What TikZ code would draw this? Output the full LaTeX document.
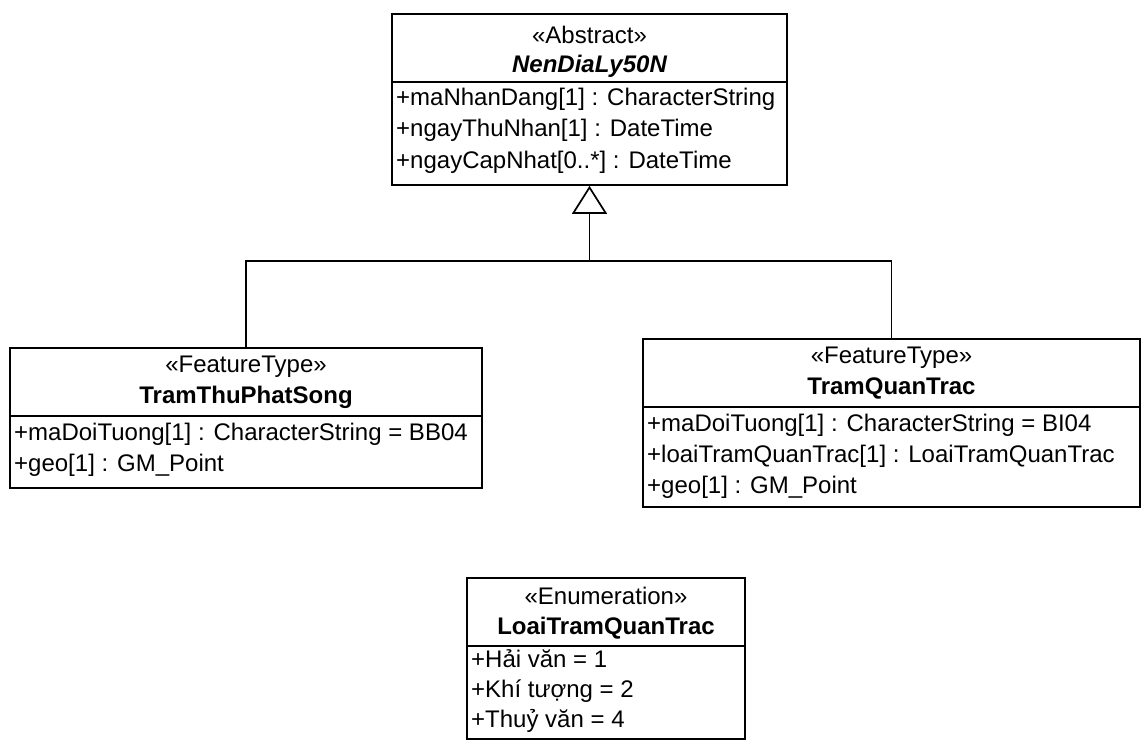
\documentclass[tikz,border=0pt]{standalone}
\usepackage{fontspec}
\setmainfont{Liberation Sans}
\usetikzlibrary{arrows.meta}
\begin{document}
\begin{tikzpicture}[x=1pt,y=-1pt,
  line/.style={line width=1.7pt},
  umlbox/.style={draw, line width=1.7pt, rectangle, inner sep=0pt},
  txt/.style={inner sep=0pt, font=\fontsize{24}{28}\selectfont, text height=17pt, text depth=5pt},
  attr/.style={txt, anchor=west},
  ster/.style={txt},
  cname/.style={txt, font=\fontsize{24}{28}\selectfont\bfseries},
]
\useasboundingbox (0,0) rectangle (1144,749);
% ---------- NenDiaLy50N
\node[umlbox, minimum width=395pt, minimum height=171pt] (top) at (589.5,99.5) {};
\draw[line] (392,82) -- (787,82);
\node[ster] (topS) at (589.5,38) {«Abstract»};
\node[cname, font=\fontsize{24}{28}\selectfont\bfseries\itshape] (topN) at (589.5,67) {NenDiaLy50N};
\node[attr] (topA1) at (396,100) {+maNhanDang[1] : CharacterString};
\node[attr] (topA2) at (396,131) {+ngayThuNhan[1] : DateTime};
\node[attr] (topA3) at (396,162) {+ngayCapNhat[0..*] : DateTime};
% ---------- TramThuPhatSong
\node[umlbox, minimum width=472pt, minimum height=140pt] (left) at (246,418) {};
\draw[line] (10,416) -- (482,416);
\node[ster] (leftS) at (246,366) {«FeatureType»};
\node[cname] (leftN) at (246,397) {TramThuPhatSong};
\node[attr] (leftA1) at (14,434) {+maDoiTuong[1] : CharacterString = BB04};
\node[attr] (leftA2) at (14,465) {+geo[1] : GM\_Point};
% ---------- TramQuanTrac
\node[umlbox, minimum width=497pt, minimum height=168pt] (right) at (891.5,423) {};
\draw[line] (643,407) -- (1140,407);
\node[ster] (rightS) at (891.5,357) {«FeatureType»};
\node[cname] (rightN) at (891.5,388) {TramQuanTrac};
\node[attr] (rightA1) at (647,425) {+maDoiTuong[1] : CharacterString = BI04};
\node[attr] (rightA2) at (647,456) {+loaiTramQuanTrac[1] : LoaiTramQuanTrac};
\node[attr] (rightA3) at (647,487) {+geo[1] : GM\_Point};
% ---------- LoaiTramQuanTrac
\node[umlbox, minimum width=278pt, minimum height=161pt] (enum) at (606,658.5) {};
\draw[line] (467,646) -- (745,646);
\node[ster] (enumS) at (606,598) {«Enumeration»};
\node[cname] (enumN) at (606,628) {LoaiTramQuanTrac};
\node[attr] (enumA1) at (471,661) {+Hải văn = 1};
\node[attr] (enumA2) at (471,691) {+Khí tượng = 2};
\node[attr] (enumA3) at (471,721) {+Thuỷ văn = 4};
% ---------- generalization
\coordinate (j) at (589.5,261);
\draw[line] (left.north) |- (j) -| (right.north);
\draw[line, -{Triangle[open, width=35pt, length=28pt, line width=1.7pt]}] (j) -- (top.south);
\end{tikzpicture}
\end{document}
